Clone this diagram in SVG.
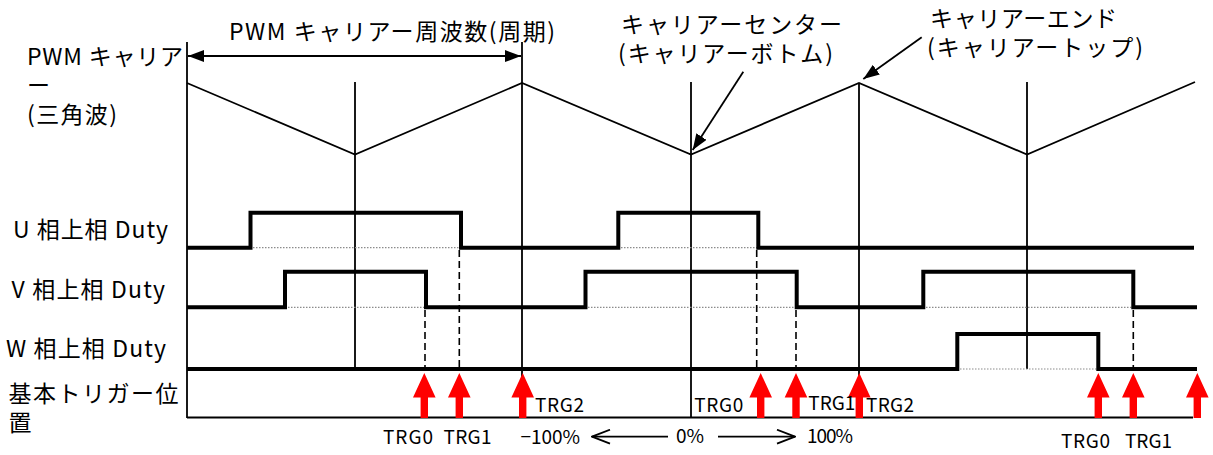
<svg xmlns="http://www.w3.org/2000/svg" width="1213" height="455" viewBox="0 0 1213 455">
<style>
text{font-family:"Noto Sans CJK JP","Noto Sans",sans-serif;fill:#000}
.lbl{font-size:23px}
.trg{font-size:19px}
.thin{stroke:#000;stroke-width:1.8;fill:none}
.sig{stroke:#000;stroke-width:4;fill:none;stroke-linejoin:miter;stroke-linecap:butt}
.dot{stroke:#8c8c8c;stroke-width:1.2;stroke-dasharray:1.5 1.5;fill:none}
.dash{stroke:#000;stroke-width:1.6;stroke-dasharray:7 4;fill:none}
.red{fill:#ff0000}
</style>
<defs>
<marker id="fa" viewBox="0 0 16 12" refX="16" refY="6" markerWidth="16" markerHeight="12" markerUnits="userSpaceOnUse" orient="auto-start-reverse">
<path d="M0,0 L16,6 L0,12 Z" fill="#000"/>
</marker>
<marker id="oa" viewBox="0 0 20 16" refX="19" refY="8" markerWidth="20" markerHeight="16" markerUnits="userSpaceOnUse" orient="auto-start-reverse">
<path d="M1,1 L19,8 L1,15" fill="none" stroke="#000" stroke-width="1.8"/>
</marker>
<path id="ra" d="M0,0 L11.3,24.5 L3.7,24.5 L3.7,45 L-3.7,45 L-3.7,24.5 L-11.3,24.5 Z"/>
</defs>
<rect width="1213" height="455" fill="#fff"/>

<g id="carrier">
<polyline class="thin" points="187,83 355,154.5 522,83 691,154.5 859,83 1027,154.5 1195,82"/>
</g>

<g id="gridlines">
<line class="thin" x1="187" y1="42" x2="187" y2="418"/>
<line class="thin" x1="355" y1="82" x2="355" y2="369"/>
<line class="thin" x1="522" y1="42" x2="522" y2="418"/>
<line class="thin" x1="691" y1="82" x2="691" y2="418"/>
<line class="thin" x1="859" y1="83" x2="859" y2="418"/>
<line class="thin" x1="1027" y1="82" x2="1027" y2="369"/>
<line class="thin" x1="187" y1="417.5" x2="1193" y2="417.5"/>
</g>

<g id="dotted-levels">
<line class="dot" x1="250" y1="247.7" x2="461" y2="247.7"/>
<line class="dot" x1="618" y1="247.7" x2="758" y2="247.7"/>
<line class="dot" x1="285" y1="307.3" x2="426" y2="307.3"/>
<line class="dot" x1="585" y1="307.3" x2="797" y2="307.3"/>
<line class="dot" x1="923" y1="307.3" x2="1133" y2="307.3"/>
<line class="dot" x1="957" y1="369" x2="1098" y2="369"/>
</g>

<g id="trace-u">
<polyline class="sig" points="187,247.7 250.5,247.7 250.5,212.7 461,212.7 461,247.7 618.3,247.7 618.3,212.7 758.3,212.7 758.3,247.7 1194,247.7"/>
</g>
<g id="trace-v">
<polyline class="sig" points="187,307.3 285,307.3 285,271.7 426,271.7 426,307.3 585.5,307.3 585.5,271.7 796.7,271.7 796.7,307.3 923.3,307.3 923.3,271.7 1133.3,271.7 1133.3,307.3 1197,307.3"/>
</g>
<g id="trace-w">
<polyline class="sig" points="187,369 957.3,369 957.3,334 1098.3,334 1098.3,369 1197,369"/>
</g>

<g id="connectors">
<line class="dash" x1="425" y1="310" x2="425" y2="367"/>
<line class="dash" x1="459.3" y1="250" x2="459.3" y2="367"/>
<line class="dash" x1="756.7" y1="250" x2="756.7" y2="367"/>
<line class="dash" x1="796" y1="310" x2="796" y2="367"/>
<line class="dash" x1="1133.3" y1="310" x2="1133.3" y2="367"/>
<line class="thin" x1="188" y1="56" x2="521" y2="56" marker-start="url(#fa)" marker-end="url(#fa)"/>
<line class="thin" x1="743.3" y1="71.7" x2="692.7" y2="150" marker-end="url(#fa)"/>
<line class="thin" x1="921.7" y1="37.3" x2="863.3" y2="79" marker-end="url(#fa)"/>
<line class="thin" x1="668" y1="436.7" x2="592" y2="436.7" marker-end="url(#oa)"/>
<line class="thin" x1="718" y1="436.7" x2="795" y2="436.7" marker-end="url(#oa)"/>
</g>

<g id="triggers" class="red">
<use href="#ra" x="424.3" y="373"/>
<use href="#ra" x="459.3" y="373"/>
<use href="#ra" x="522.7" y="373"/>
<use href="#ra" x="760.7" y="373"/>
<use href="#ra" x="796" y="373"/>
<use href="#ra" x="859.3" y="373"/>
<use href="#ra" x="1098.3" y="373"/>
<use href="#ra" x="1133.3" y="373"/>
<use href="#ra" x="1197.3" y="373"/>
</g>

<g id="title"><text class="lbl" x="229" y="40" textLength="326">PWM キャリアー周波数(周期)</text></g>
<g id="label-carrier">
<text class="lbl"><tspan x="27" y="65" textLength="156">PWM キャリア</tspan><tspan x="27" y="94">ー</tspan><tspan x="27" y="123" textLength="90">(三角波)</tspan></text>
</g>
<g id="label-center">
<text class="lbl"><tspan x="621" y="33" textLength="221">キャリアーセンター</tspan><tspan x="618" y="62" textLength="215">(キャリアーボトム)</tspan></text>
</g>
<g id="label-end">
<text class="lbl"><tspan x="930" y="27" textLength="187">キャリアーエンド</tspan><tspan x="927" y="56" textLength="216">(キャリアートップ)</tspan></text>
</g>
<g id="label-u"><text class="lbl" x="13" y="238" textLength="155">U 相上相 Duty</text></g>
<g id="label-v"><text class="lbl" x="11.5" y="298" textLength="153.5">V 相上相 Duty</text></g>
<g id="label-w"><text class="lbl" x="6" y="357" textLength="160">W 相上相 Duty</text></g>
<g id="label-trigger">
<text class="lbl"><tspan x="8.4" y="402" textLength="170">基本トリガー位</tspan><tspan x="8.4" y="431">置</tspan></text>
</g>
<g id="trg-labels">
<text class="trg" x="383" y="444" textLength="50">TRG0</text>
<text class="trg" x="443.5" y="444" textLength="48">TRG1</text>
<text class="trg" x="535" y="412" textLength="49">TRG2</text>
<text class="trg" x="520.5" y="444" textLength="59.5">−100%</text>
<text class="trg" x="676" y="443">0%</text>
<text class="trg" x="807" y="443" textLength="46">100%</text>
<text class="trg" x="694.3" y="411.5" textLength="49">TRG0</text>
<text class="trg" x="808.3" y="410" textLength="47">TRG1</text>
<text class="trg" x="866" y="411.7" textLength="48">TRG2</text>
<text class="trg" x="1061" y="448" textLength="49">TRG0</text>
<text class="trg" x="1125" y="448" textLength="47">TRG1</text>
</g>
</svg>
